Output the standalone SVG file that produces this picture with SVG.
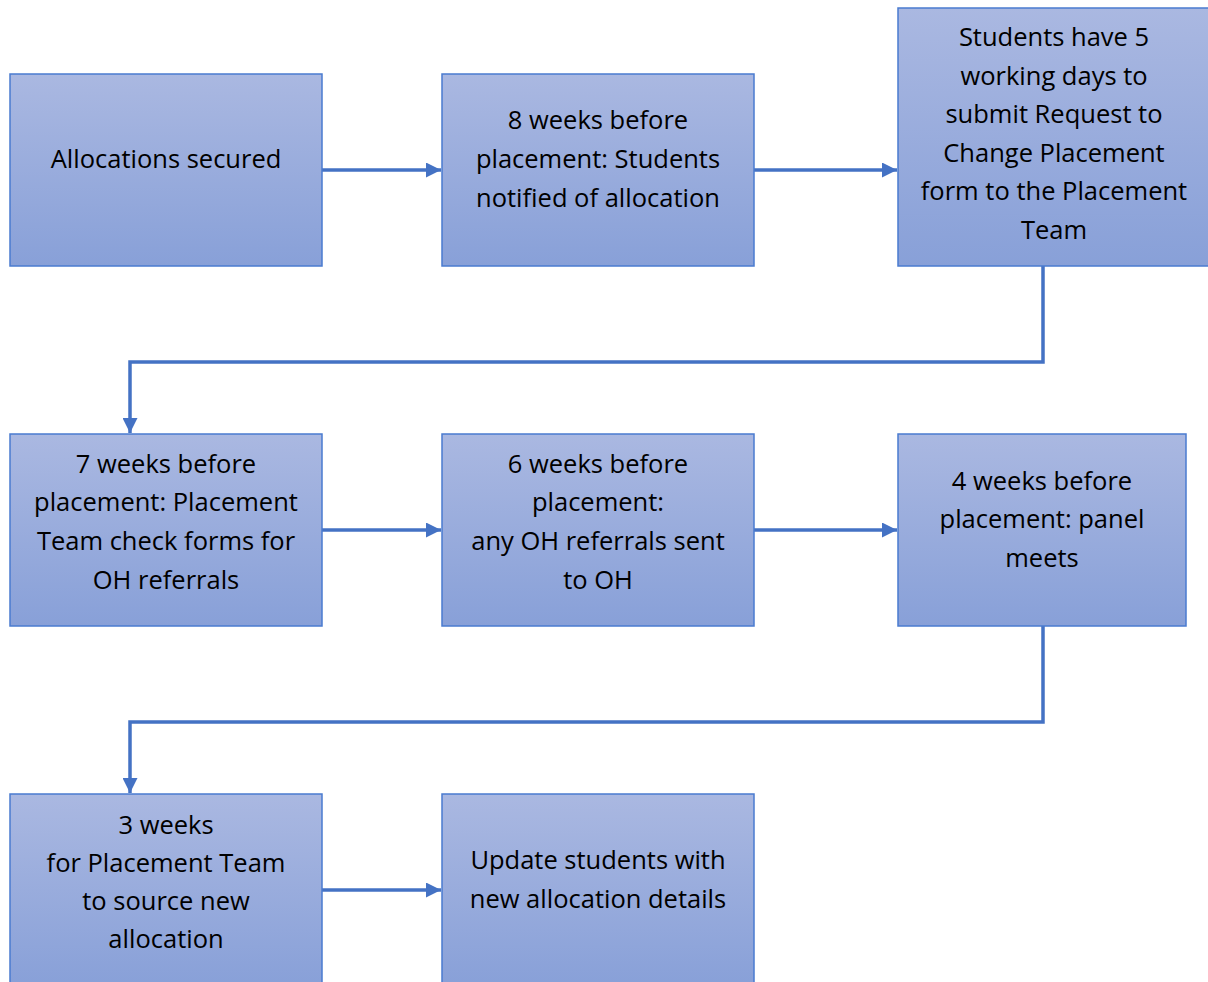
<svg xmlns="http://www.w3.org/2000/svg" width="1208" height="982" viewBox="0 0 1208 982">
<defs>
<linearGradient id="g" x1="0" y1="0" x2="0" y2="1">
<stop offset="0" stop-color="#aab8e1"/>
<stop offset="1" stop-color="#88a0d8"/>
</linearGradient>
<marker id="ah" viewBox="0 0 10 10" refX="10" refY="5" markerWidth="16" markerHeight="15" markerUnits="userSpaceOnUse" orient="auto">
<path d="M0,0 L10,5 L0,10 Z" fill="#4472c4"/>
</marker>
<style>
.box{fill:url(#g);stroke:#4a7bd0;stroke-width:1.5}
.t{font-family:"Open Sans","Noto Sans",sans-serif;font-size:25.5px;fill:#000;text-anchor:middle}
.c{fill:none;stroke:#4472c4;stroke-width:3.5}
</style>
</defs>
<rect width="1208" height="982" fill="#fff"/>
<g id="connectors">
<path class="c" d="M322,170 H441" marker-end="url(#ah)"/>
<path class="c" d="M754,170 H897" marker-end="url(#ah)"/>
<path class="c" d="M1043,266 V362 H130 V433" marker-end="url(#ah)"/>
<path class="c" d="M322,530 H441" marker-end="url(#ah)"/>
<path class="c" d="M754,530 H897" marker-end="url(#ah)"/>
<path class="c" d="M1043,626 V722 H130 V793" marker-end="url(#ah)"/>
<path class="c" d="M322,890 H441" marker-end="url(#ah)"/>
</g>
<g id="n1"><rect class="box" x="10" y="74" width="312" height="192"/>
<text class="t" x="166" y="168">Allocations secured</text></g>
<g id="n2"><rect class="box" x="442" y="74" width="312" height="192"/>
<text class="t" x="598" y="129">8 weeks before</text>
<text class="t" x="598" y="168">placement: Students</text>
<text class="t" x="598" y="207">notified of allocation</text></g>
<g id="n3"><rect class="box" x="898" y="8" width="312" height="258"/>
<text class="t" x="1054" y="46">Students have 5</text>
<text class="t" x="1054" y="85">working days to</text>
<text class="t" x="1054" y="123">submit Request to</text>
<text class="t" x="1054" y="162">Change Placement</text>
<text class="t" x="1054" y="200">form to the Placement</text>
<text class="t" x="1054" y="239">Team</text></g>
<g id="n4"><rect class="box" x="10" y="434" width="312" height="192"/>
<text class="t" x="166" y="473">7 weeks before</text>
<text class="t" x="166" y="511">placement: Placement</text>
<text class="t" x="166" y="550">Team check forms for</text>
<text class="t" x="166" y="589">OH referrals</text></g>
<g id="n5"><rect class="box" x="442" y="434" width="312" height="192"/>
<text class="t" x="598" y="473">6 weeks before</text>
<text class="t" x="598" y="511">placement:</text>
<text class="t" x="598" y="550">any OH referrals sent</text>
<text class="t" x="598" y="589">to OH</text></g>
<g id="n6"><rect class="box" x="898" y="434" width="288" height="192"/>
<text class="t" x="1042" y="490">4 weeks before</text>
<text class="t" x="1042" y="528">placement: panel</text>
<text class="t" x="1042" y="567">meets</text></g>
<g id="n7"><rect class="box" x="10" y="794" width="312" height="192"/>
<text class="t" x="166" y="834">3 weeks</text>
<text class="t" x="166" y="872">for Placement Team</text>
<text class="t" x="166" y="910">to source new</text>
<text class="t" x="166" y="948">allocation</text></g>
<g id="n8"><rect class="box" x="442" y="794" width="312" height="192"/>
<text class="t" x="598" y="869">Update students with</text>
<text class="t" x="598" y="908">new allocation details</text></g>
</svg>
